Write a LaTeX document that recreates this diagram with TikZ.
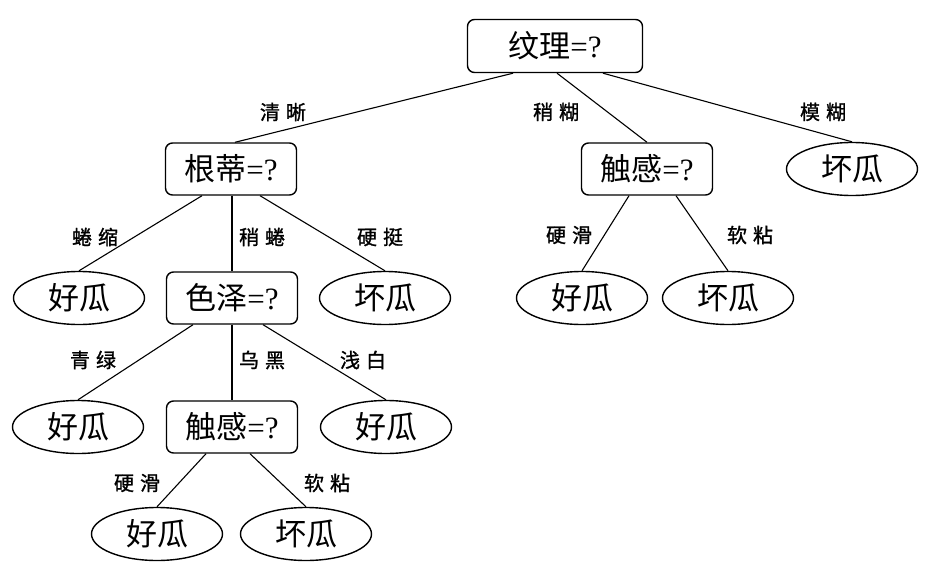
\documentclass[tikz,border=0pt]{standalone}
\usepackage{fontspec}
\setmainfont{Liberation Serif}
\newfontfamily\cjk{Noto Sans CJK SC}
\newfontfamily\cjklab[FakeBold=1.2]{Noto Sans CJK SC}
\usetikzlibrary{shapes.geometric,calc}
\begin{document}
\begin{tikzpicture}[x=1pt,y=-1pt,
  qbox/.style={draw,line width=1.4pt,rounded corners=7pt,minimum width=131pt,minimum height=52pt,inner sep=0pt,font=\fontsize{31}{31}\selectfont},
  leaf/.style={draw,ellipse,line width=1.4pt,minimum width=131pt,minimum height=53pt,inner sep=0pt,font=\fontsize{31}{31}\selectfont\cjk},
  elabel/.style={font=\fontsize{20}{20}\selectfont\cjklab,inner sep=0pt},
  edge/.style={line width=1.1pt}]
\fill[white] (0,0) rectangle (928,578);
\useasboundingbox (0,0) rectangle (928,578);
% decision nodes
\node[qbox,minimum width=175pt,minimum height=53pt] (root) at (555,46) {{\cjk 纹理}=?};
\node[qbox] (n1) at (231,169) {{\cjk 根蒂}=?};
\node[qbox] (n2) at (647,169) {{\cjk 触感}=?};
\node[qbox] (n3) at (232,298) {{\cjk 色泽}=?};
\node[qbox] (n4) at (232,427) {{\cjk 触感}=?};
% leaves
\node[leaf] (l1) at (852,169) {坏瓜};
\node[leaf] (l2) at (79,298) {好瓜};
\node[leaf] (l3) at (385,298) {坏瓜};
\node[leaf] (l4) at (582,298) {好瓜};
\node[leaf] (l5) at (728,298) {坏瓜};
\node[leaf] (l6) at (78,427) {好瓜};
\node[leaf] (l7) at (386,427) {好瓜};
\node[leaf] (l8) at (157,534) {好瓜};
\node[leaf] (l9) at (306,534) {坏瓜};
% edges
\draw[edge] ([xshift=-42pt]root.south) -- ([xshift=4pt]n1.north);
\draw[edge] ([xshift=2pt]root.south) -- (n2.north);
\draw[edge] ([xshift=48pt]root.south) -- (l1.north);
\draw[edge] ([xshift=-29pt]n1.south) -- (l2.north);
\draw[edge] ([xshift=1pt]n1.south) -- (n3.north);
\draw[edge] ([xshift=29pt]n1.south) -- (l3.north);
\draw[edge] ([xshift=-18pt]n2.south) -- (l4.north);
\draw[edge] ([xshift=29pt]n2.south) -- (l5.north);
\draw[edge] ([xshift=-39pt]n3.south) -- (l6.north);
\draw[edge] (n3.south) -- (n4.north);
\draw[edge] ([xshift=31pt]n3.south) -- (l7.north);
\draw[edge] ([xshift=-26pt]n4.south) -- (l8.north);
\draw[edge] ([xshift=18pt]n4.south) -- (l9.north);
% edge labels
\node[elabel] (e1) at (283,112) {清\hspace{6pt}晰};
\node[elabel] (e2) at (556,112) {稍\hspace{6pt}糊};
\node[elabel] (e3) at (823,112) {模\hspace{6pt}糊};
\node[elabel] (e4) at (95,237) {蜷\hspace{6pt}缩};
\node[elabel] (e5) at (262,237) {稍\hspace{6pt}蜷};
\node[elabel] (e6) at (380,237) {硬\hspace{6pt}挺};
\node[elabel] (e7) at (569,235) {硬\hspace{6pt}滑};
\node[elabel] (e8) at (750,235) {软\hspace{6pt}粘};
\node[elabel] (e9) at (93,360) {青\hspace{6pt}绿};
\node[elabel] (e10) at (262,360) {乌\hspace{6pt}黑};
\node[elabel] (e11) at (363,360) {浅\hspace{6pt}白};
\node[elabel] (e12) at (137,483) {硬\hspace{6pt}滑};
\node[elabel] (e13) at (327,483) {软\hspace{6pt}粘};
\end{tikzpicture}
\end{document}
